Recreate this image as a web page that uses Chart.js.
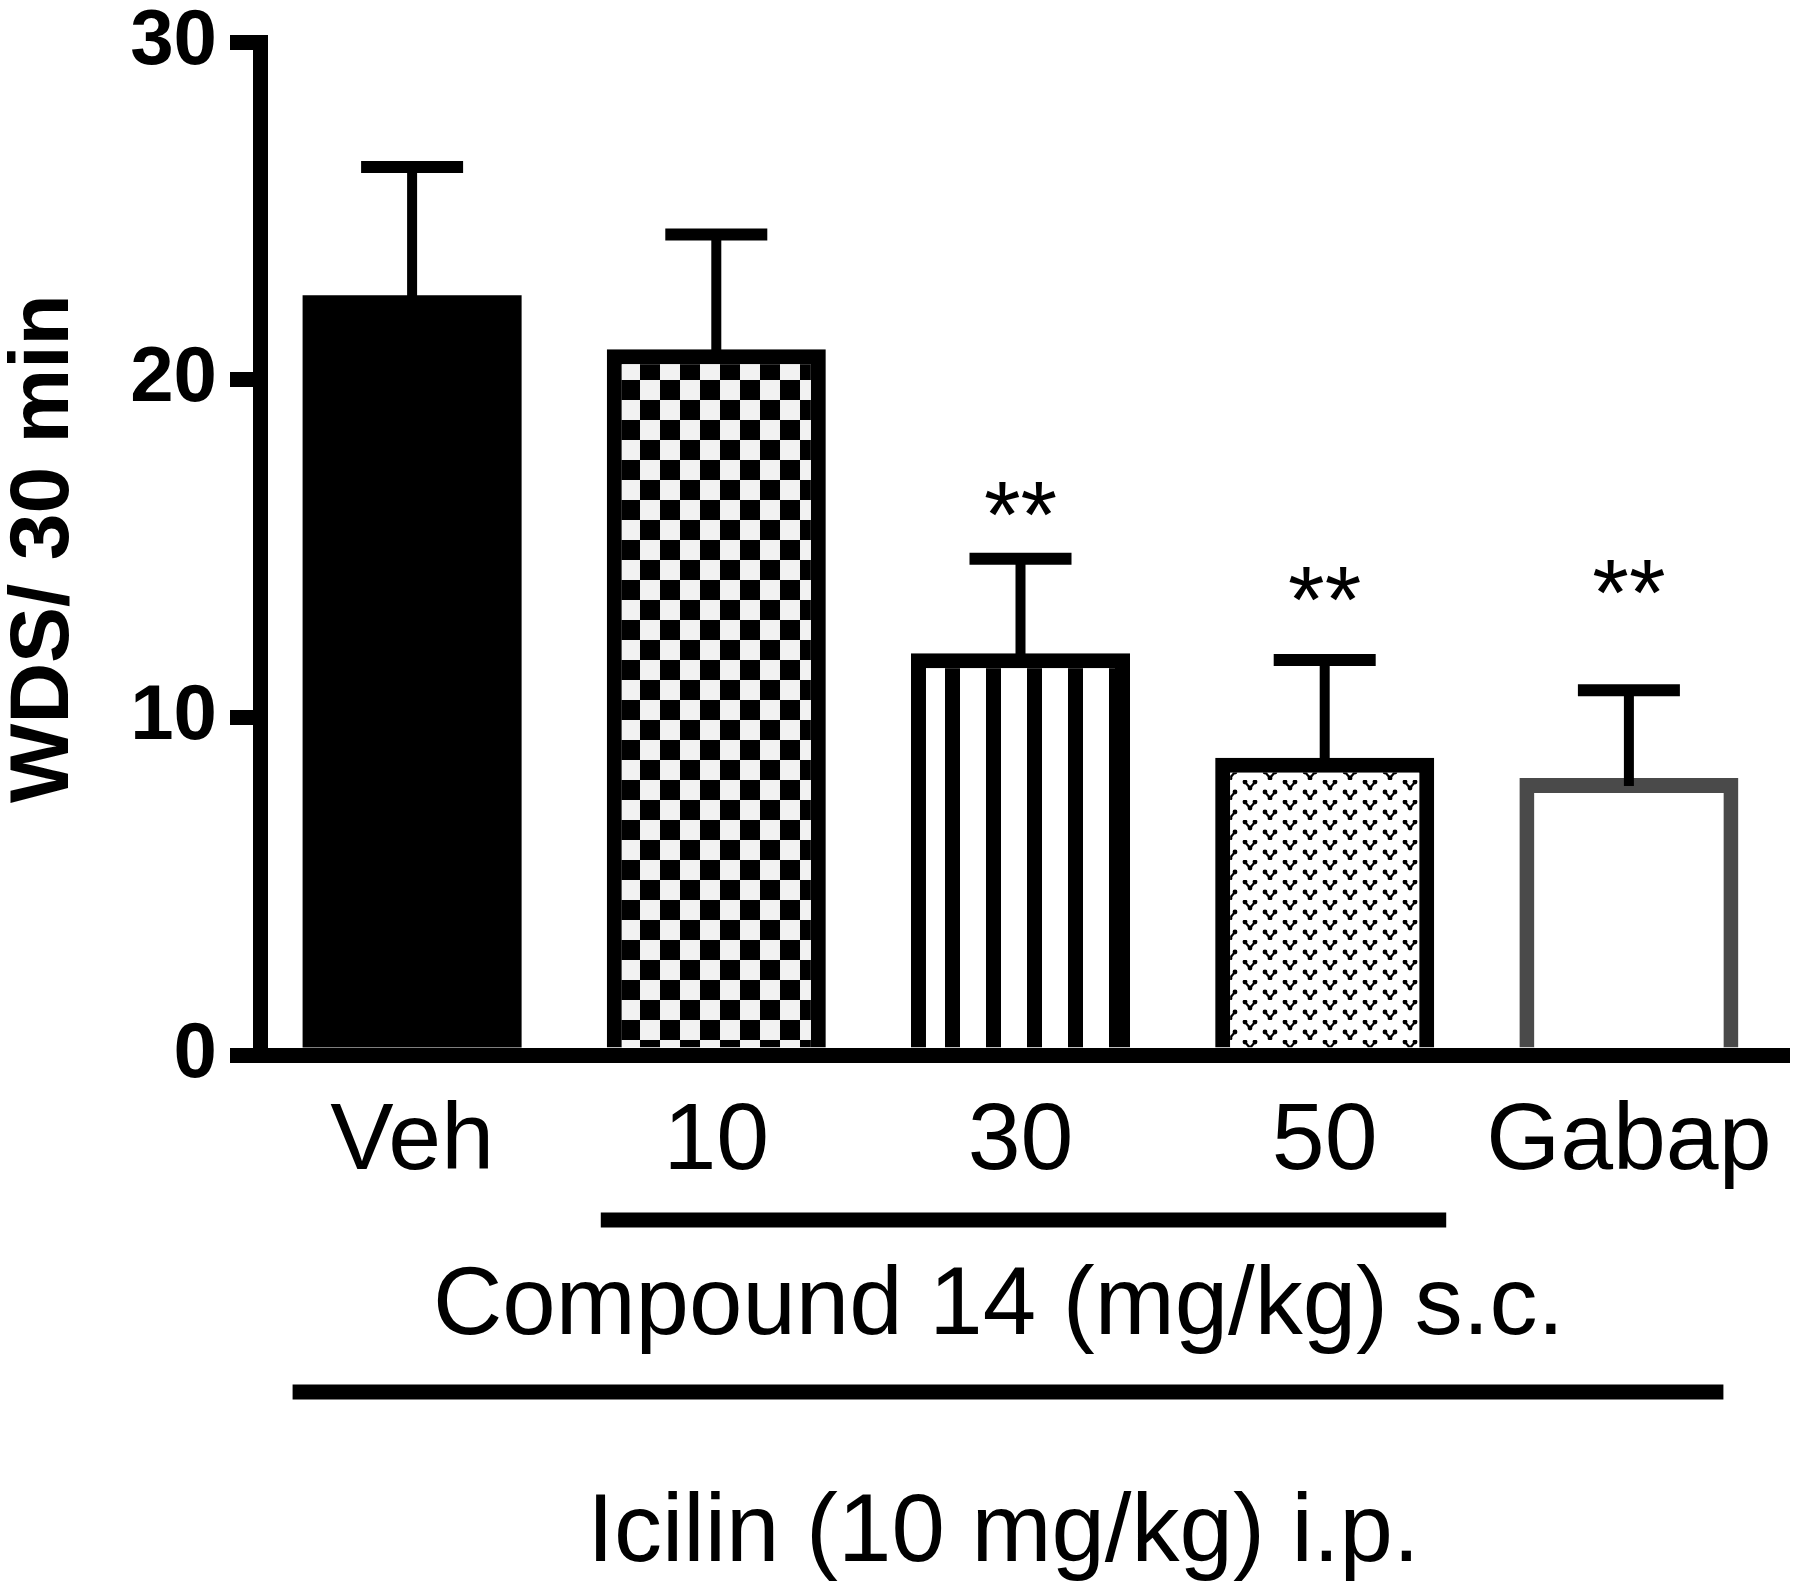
<!DOCTYPE html>
<html>
<head>
<meta charset="utf-8">
<title>WDS / 30 min</title>
<script src="https://cdn.jsdelivr.net/npm/chart.js@4.4.1/dist/chart.umd.min.js"></script>
<style>
  html, body { margin: 0; padding: 0; background: #fff; }
  canvas { display: block; }
</style>
</head>
<body>
<canvas id="wdsChart" width="1800" height="1594"></canvas>
<script>
// data
const groups = ['Veh', '10', '30', '50', 'Gabap'];
const wdsMean = [22.5, 20.9, 11.9, 8.8, 8.2];
const wdsSem = [3.8, 3.4, 2.8, 2.9, 2.6];
const sigMarks = ['', '', '**', '**', '**'];
const sigLevel = [null, null, 16.4, 13.9, 14.1];   // where the stars sit (y units)
const yTicks = [0, 10, 20, 30];
const compoundLabel = 'Compound 14 (mg/kg) s.c.';
const icilinLabel = 'Icilin (10 mg/kg) i.p.';

const FONT = '"Liberation Sans", Arial, Helvetica, sans-serif';
Chart.defaults.font.family = FONT;
Chart.defaults.color = '#000';

const canvas = document.getElementById('wdsChart');
const ctx = canvas.getContext('2d');

// hatch fills for the bars
function makePattern(w, h, paint) {
    const c = document.createElement('canvas');
    c.width = w;
    c.height = h;
    const g = c.getContext('2d');
    g.fillStyle = '#fff';
    g.fillRect(0, 0, w, h);
    paint(g);
    return ctx.createPattern(c, 'repeat');
}

const checker = makePattern(40, 40, g => {
    g.fillStyle = '#f2f2f2';
    g.fillRect(0, 0, 40, 40);
    g.fillStyle = '#000';
    g.fillRect(0, 0, 20, 20);
    g.fillRect(20, 20, 20, 20);
});

const stripes = makePattern(41, 4, g => {
    g.fillStyle = '#000';
    g.fillRect(2, 0, 15, 4);
});

const vdots = makePattern(40, 20, g => {
    g.fillStyle = '#000';
    g.strokeStyle = '#000';
    g.lineWidth = 2.2;
    [[10, 5], [30, 15]].forEach(([cx, cy]) => {
        g.beginPath();
        g.moveTo(cx - 5, cy - 3);
        g.lineTo(cx, cy + 3);
        g.lineTo(cx + 5, cy - 3);
        g.stroke();
        [[-5, -3], [5, -3], [0, 3]].forEach(([dx, dy]) => {
            g.beginPath();
            g.arc(cx + dx, cy + dy, 2.4, 0, Math.PI * 2);
            g.fill();
        });
    });
});

const barFills = ['#000', checker, stripes, vdots, '#fff'];
const barEdges = ['#000', '#000', '#000', '#000', '#4a4a4a'];
const barEdgeWidths = [0, 15, 15, 15, 15];

// error bars, stars, group brackets
const annotations = {
    id: 'annotations',
    afterDatasetsDraw(chart) {
        const {ctx, scales: {x, y}} = chart;
        const bars = chart.getDatasetMeta(0).data;
        ctx.save();
        ctx.strokeStyle = '#000';
        ctx.fillStyle = '#000';
        bars.forEach((bar, i) => {
            const top = y.getPixelForValue(wdsMean[i] + wdsSem[i]);
            ctx.lineWidth = 10;
            ctx.beginPath();
            ctx.moveTo(bar.x, bar.y + 8);
            ctx.lineTo(bar.x, top);
            ctx.stroke();
            ctx.lineWidth = 12;
            ctx.beginPath();
            ctx.moveTo(bar.x - 51, top);
            ctx.lineTo(bar.x + 51, top);
            ctx.stroke();

            if (sigMarks[i]) {
                ctx.font = '94px ' + FONT;
                ctx.textAlign = 'center';
                ctx.textBaseline = 'alphabetic';
                ctx.fillText(sigMarks[i], bar.x, y.getPixelForValue(sigLevel[i]) + 46);
            }
        });
        ctx.restore();
    },
    afterDraw(chart) {
        const {ctx, chartArea, scales: {x}} = chart;
        const bars = chart.getDatasetMeta(0).data;
        const b = chartArea.bottom;
        const mid = x.getPixelForValue(2);
        ctx.save();
        ctx.strokeStyle = '#000';
        ctx.fillStyle = '#000';
        ctx.lineWidth = 15;

        ctx.beginPath();
        ctx.moveTo(bars[1].x - bars[1].width / 2 - 6, b + 165);
        ctx.lineTo(bars[3].x + bars[3].width / 2 + 12, b + 165);
        ctx.stroke();

        ctx.beginPath();
        ctx.moveTo(bars[0].x - bars[0].width / 2 - 10, b + 337);
        ctx.lineTo(bars[4].x + bars[4].width / 2 - 15, b + 337);
        ctx.stroke();

        ctx.font = '96px ' + FONT;
        ctx.textAlign = 'center';
        ctx.textBaseline = 'alphabetic';
        ctx.fillText(compoundLabel, mid - 22, b + 279);
        ctx.fillText(icilinLabel, mid - 17, b + 506);
        ctx.restore();
    }
};

new Chart(ctx, {
    type: 'bar',
    data: {
        labels: groups,
        datasets: [{
            data: wdsMean,
            backgroundColor: barFills,
            borderColor: barEdges,
            borderWidth: barEdgeWidths,
            borderSkipped: 'start',
            barPercentage: 0.72,
            categoryPercentage: 1
        }]
    },
    options: {
        responsive: false,
        animation: false,
        layout: { padding: { top: 42, right: 19, bottom: 0, left: 0 } },
        plugins: {
            legend: { display: false },
            tooltip: { enabled: false }
        },
        scales: {
            x: {
                offset: true,
                grid: { display: false, drawTicks: false, lineWidth: 18 },
                border: { display: true, color: '#000', width: 15, z: 1 },
                ticks: {
                    font: { size: 95, lineHeight: 1.2 },
                    color: '#000',
                    padding: 31,
                    maxRotation: 0,
                    autoSkip: false
                },
                afterFit(scale) {
                    scale.height = 539;
                    scale.paddingLeft = 0;
                    scale.paddingRight = 0;
                }
            },
            y: {
                min: 0,
                max: 30,
                grid: {
                    display: true,
                    drawOnChartArea: false,
                    drawTicks: true,
                    tickLength: 30,
                    lineWidth: 15,
                    color: '#000'
                },
                border: { display: true, color: '#000', width: 15 },
                afterBuildTicks(scale) { scale.ticks = yTicks.map(v => ({ value: v })); },
                ticks: {
                    font: { size: 78, weight: 'bold', lineHeight: 1 },
                    color: '#000',
                    padding: 13
                },
                title: {
                    display: true,
                    text: 'WDS/ 30 min',
                    font: { size: 84, weight: 'bold', lineHeight: 1.07 },
                    color: '#000',
                    padding: 0
                },
                afterFit(scale) {
                    scale.width = 260;
                    scale.paddingTop = 0;
                    scale.paddingBottom = 0;
                }
            }
        }
    },
    plugins: [annotations]
});
</script>
</body>
</html>
